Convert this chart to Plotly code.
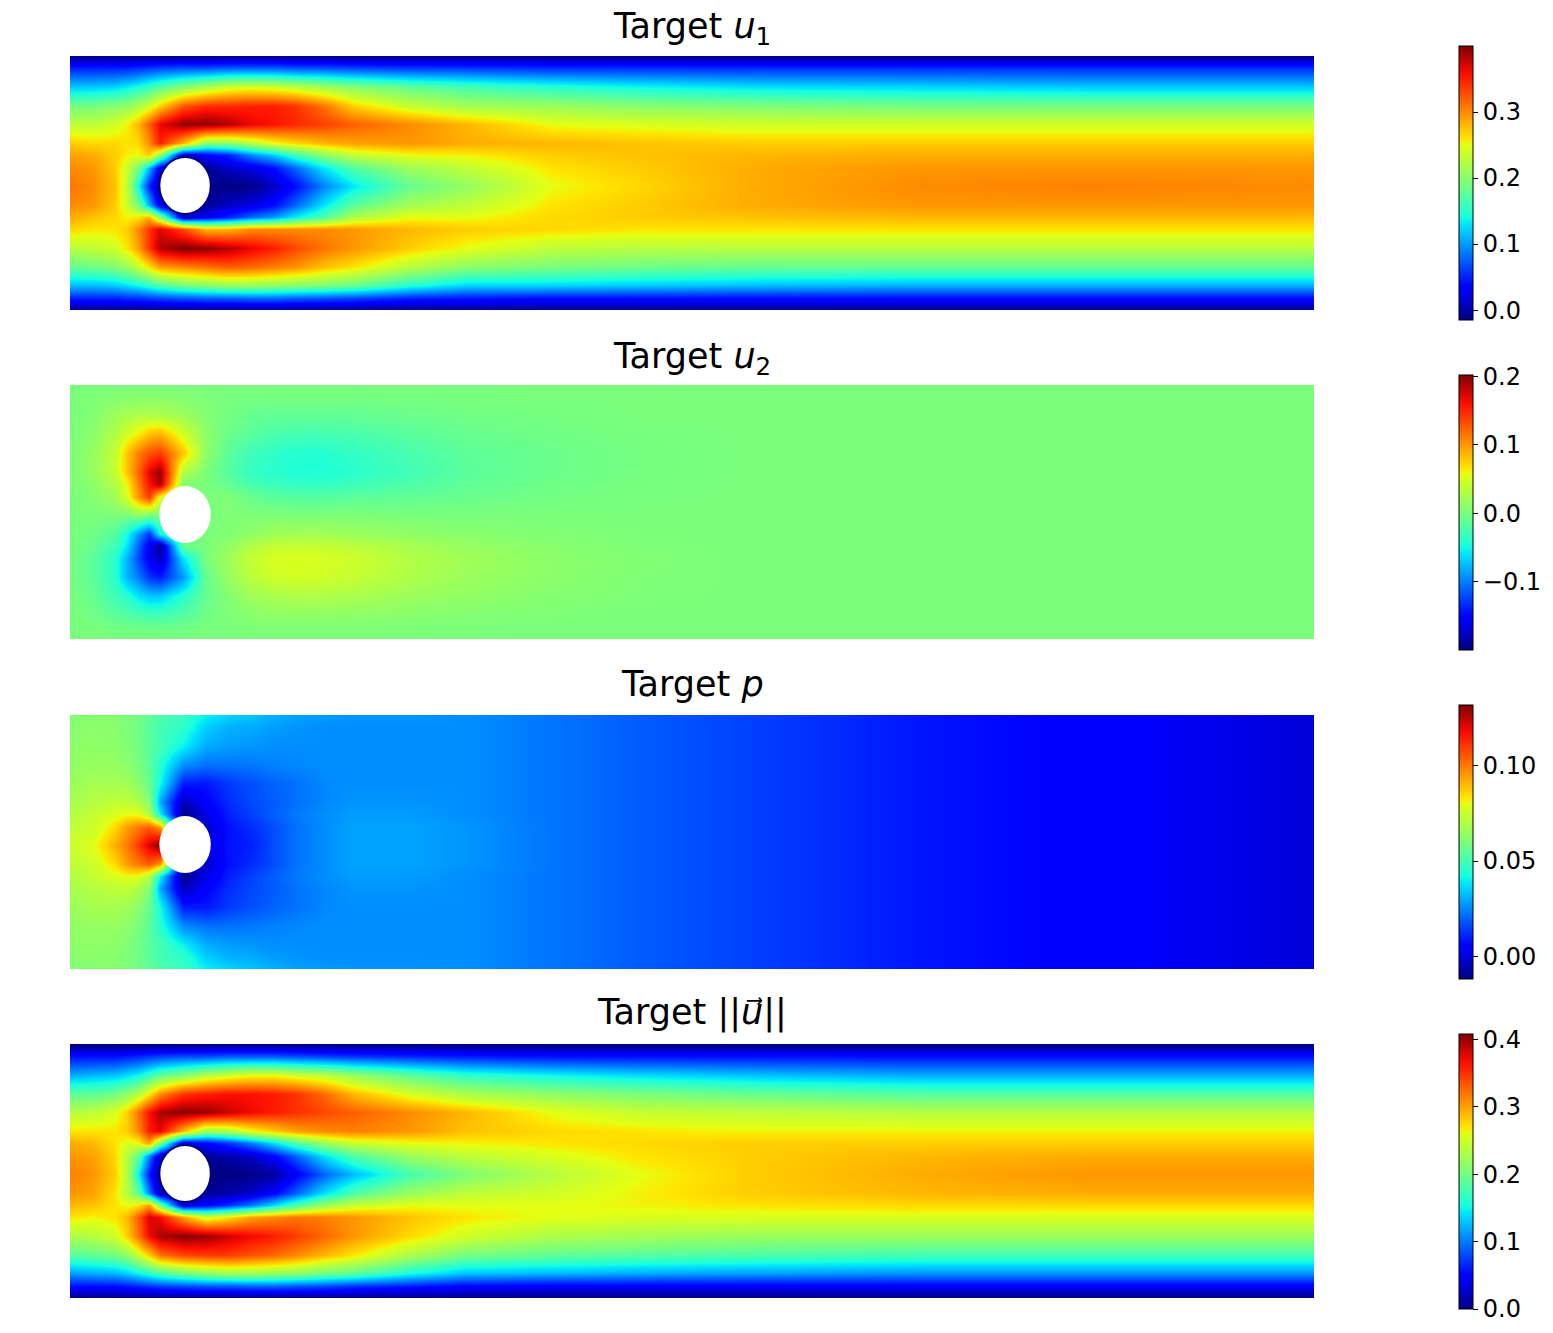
import plotly.graph_objects as go

# page body has an 8px margin, so the figure is smaller than the window
WIDTH = 1537
HEIGHT = 1317
PAGE_MARGIN = 8

JET = [
    [0.0, "#00007f"], [0.11, "#0000ff"], [0.125, "#0000ff"], [0.34, "#00dcff"],
    [0.35, "#00e5f7"], [0.375, "#16ffe1"], [0.5, "#7cff79"], [0.64, "#e4ff12"],
    [0.66, "#ffe600"], [0.89, "#ff1300"], [0.91, "#f10800"], [1.0, "#7f0000"],
]

X_COLS = [0, 0.04, 0.08, 0.1, 0.12, 0.14, 0.16, 0.2, 0.24, 0.28, 0.32, 0.36,
          0.4, 0.45, 0.5, 0.6, 0.7, 0.85, 1.0, 1.2, 1.5, 1.8, 2.2]
Y_ROWS = [0.41, 0.39, 0.36, 0.33, 0.30, 0.27, 0.25, 0.23, 0.20,
          0.17, 0.15, 0.13, 0.10, 0.07, 0.04, 0.02, 0]

# rows run from the top wall to the bottom wall
U1 = [
    [-.01, -.01, -.01, -.01, -.01, -.01, -.01, -.01, -.01, -.01, -.01, -.01, -.01, -.01, -.01, -.01, -.01, -.01, -.01, -.01, -.01, -.01, -.01],
    [.05, .05, .05, .05, .055, .06, .065, .07, .07, .075, .075, .075, .07, .07, .065, .06, .06, .055, .055, .055, .055, .055, .055],
    [.12, .12, .125, .135, .145, .16, .175, .2, .22, .24, .245, .24, .23, .215, .2, .18, .165, .15, .14, .13, .125, .12, .12],
    [.19, .19, .2, .205, .22, .24, .27, .325, .345, .345, .35, .35, .34, .31, .27, .235, .215, .21, .2, .195, .19, .19, .19],
    [.23, .23, .24, .255, .28, .32, .365, .395, .395, .385, .365, .355, .345, .335, .32, .3, .28, .25, .245, .24, .24, .24, .24],
    [.27, .265, .265, .26, .265, .3, .35, .28, .2, .2, .225, .25, .265, .28, .29, .295, .285, .28, .275, .27, .27, .27, .27],
    [.29, .285, .27, .255, .25, .27, .2, .01, .03, .05, .09, .12, .16, .2, .23, .25, .255, .27, .275, .28, .285, .285, .285],
    [.3, .295, .27, .235, .19, .11, .02, 0, -.005, .01, .02, .04, .08, .13, .17, .21, .23, .26, .27, .285, .295, .295, .295],
    [.31, .3, .275, .23, .14, .05, -.005, 0, -.01, -.015, -.012, .01, .04, .09, .13, .18, .205, .25, .265, .285, .3, .305, .3],
    [.3, .295, .27, .235, .19, .11, .02, 0, -.005, .01, .02, .04, .08, .13, .175, .215, .23, .26, .27, .285, .295, .295, .295],
    [.285, .275, .265, .255, .26, .28, .2, .01, .03, .05, .08, .1, .135, .17, .22, .25, .25, .265, .27, .275, .28, .28, .28],
    [.265, .26, .26, .27, .3, .34, .37, .33, .28, .28, .3, .3, .3, .3, .295, .28, .27, .265, .26, .26, .26, .26, .26],
    [.225, .23, .24, .26, .29, .34, .385, .4, .395, .385, .365, .35, .33, .31, .295, .27, .25, .23, .225, .225, .225, .225, .225],
    [.18, .185, .195, .21, .23, .26, .29, .3, .31, .32, .315, .305, .295, .275, .26, .225, .2, .19, .185, .18, .18, .18, .18],
    [.115, .115, .12, .13, .14, .155, .17, .19, .2, .21, .21, .205, .2, .195, .185, .15, .125, .125, .12, .115, .11, .11, .11],
    [.05, .05, .05, .055, .055, .06, .065, .07, .075, .075, .08, .08, .075, .07, .065, .05, .045, .04, .04, .04, .04, .04, .04],
    [-.01, -.01, -.01, -.01, -.01, -.01, -.01, -.01, -.01, -.01, -.01, -.01, -.01, -.01, -.01, -.01, -.01, -.01, -.01, -.01, -.01, -.01, -.01],
]

U2 = [
    [0, 0, 0, 0, 0, 0, 0, 0, 0, 0, 0, 0, 0, 0, 0, 0, 0, 0, 0, 0, 0, 0, 0],
    [0, .002, .005, .006, .007, .007, .007, .005, .001, -.001, -.002, -.003, -.003, -.003, -.003, -.002, -.001, 0, 0, 0, 0, 0, 0],
    [0, .005, .02, .025, .03, .03, .03, .02, .005, -.003, -.01, -.012, -.012, -.012, -.012, -.008, -.005, -.003, 0, 0, 0, 0, 0],
    [0, .01, .03, .05, .065, .085, .09, .05, .01, -.008, -.016, -.024, -.028, -.028, -.025, -.017, -.01, -.005, -.002, 0, 0, 0, 0],
    [.002, .015, .04, .08, .11, .13, .14, .08, .01, -.015, -.03, -.038, -.042, -.042, -.036, -.025, -.015, -.008, -.003, 0, 0, 0, 0],
    [.002, .015, .04, .08, .12, .17, .195, .03, 0, -.018, -.035, -.04, -.045, -.045, -.04, -.028, -.016, -.008, -.003, 0, 0, 0, 0],
    [.001, .01, .03, .06, .11, .16, .19, .005, 0, -.01, -.025, -.03, -.035, -.035, -.03, -.022, -.013, -.006, -.002, 0, 0, 0, 0],
    [0, .005, .02, .05, .1, .14, .05, 0, 0, .003, -.008, -.015, -.018, -.018, -.015, -.012, -.008, -.004, -.001, 0, 0, 0, 0],
    [0, 0, .002, 0, .01, 0, 0, 0, 0, .002, .002, .002, .002, .002, .002, 0, 0, 0, 0, 0, 0, 0, 0],
    [0, -.005, -.02, -.05, -.09, -.13, -.05, 0, 0, .005, .012, .02, .022, .022, .018, .012, .008, .004, .001, 0, 0, 0, 0],
    [0, -.01, -.03, -.06, -.11, -.16, -.195, -.01, 0, .012, .03, .04, .04, .04, .035, .025, .015, .007, .002, 0, 0, 0, 0],
    [-.002, -.015, -.04, -.08, -.12, -.16, -.18, -.06, 0, .02, .04, .05, .052, .05, .045, .03, .02, .01, .004, 0, 0, 0, 0],
    [-.002, -.015, -.04, -.08, -.1, -.13, -.14, -.09, -.01, .015, .035, .045, .048, .045, .04, .028, .018, .009, .003, 0, 0, 0, 0],
    [0, -.01, -.03, -.04, -.06, -.07, -.07, -.04, -.01, .005, .02, .025, .028, .028, .025, .018, .012, .006, .002, 0, 0, 0, 0],
    [0, -.005, -.015, -.02, -.025, -.03, -.03, -.02, -.005, .002, .008, .012, .012, .012, .01, .008, .005, .002, 0, 0, 0, 0, 0],
    [0, 0, -.004, -.005, -.006, -.007, -.007, -.005, -.001, 0, .002, .003, .003, .003, .003, .002, .001, 0, 0, 0, 0, 0, 0],
    [0, 0, 0, 0, 0, 0, 0, 0, 0, 0, 0, 0, 0, 0, 0, 0, 0, 0, 0, 0, 0, 0, 0],
]

P = [
    [.061, .062, .062, .06, .058, .055, .052, .048, .04, .036, .034, .031, .029, .028, .027, .027, .026, .0225, .019, .015, .009, .005, -.001],
    [.062, .063, .062, .06, .058, .054, .05, .046, .035, .031, .03, .028, .027, .026, .026, .026, .026, .0225, .019, .015, .009, .005, -.001],
    [.063, .064, .063, .061, .058, .054, .05, .04, .03, .028, .027, .026, .026, .026, .026, .026, .026, .0225, .019, .015, .009, .005, -.001],
    [.064, .065, .065, .063, .06, .054, .045, .026, .022, .022, .023, .024, .025, .026, .026, .026, .026, .0225, .019, .015, .009, .005, -.001],
    [.066, .068, .068, .067, .063, .056, .042, .01, .009, .014, .017, .02, .022, .025, .026, .026, .026, .0225, .019, .015, .009, .005, -.001],
    [.068, .071, .073, .073, .07, .062, .03, -.005, .005, .012, .016, .019, .022, .025, .027, .027, .026, .0225, .019, .015, .009, .005, -.001],
    [.07, .074, .078, .08, .08, .07, .04, -.011, .001, .01, .015, .0195, .023, .026, .028, .028, .026, .0225, .019, .015, .009, .005, -.001],
    [.073, .075, .085, .095, .1, .105, .095, 0, -.003, .008, .012, .017, .022, .026, .029, .029, .027, .0225, .019, .015, .009, .005, -.001],
    [.075, .079, .092, .1, .11, .122, .132, 0, .001, .008, .01, .017, .022, .026, .029, .029, .027, .0225, .019, .015, .009, .005, -.001],
    [.073, .075, .085, .095, .1, .105, .095, 0, -.003, .008, .012, .017, .022, .026, .029, .029, .027, .0225, .019, .015, .009, .005, -.001],
    [.07, .074, .078, .08, .08, .07, .04, -.011, .001, .01, .015, .0195, .023, .026, .028, .028, .026, .0225, .019, .015, .009, .005, -.001],
    [.068, .071, .073, .073, .07, .062, .03, -.005, .005, .012, .016, .019, .022, .025, .027, .027, .026, .0225, .019, .015, .009, .005, -.001],
    [.066, .068, .068, .067, .063, .056, .042, .01, .009, .014, .017, .02, .022, .025, .026, .026, .026, .0225, .019, .015, .009, .005, -.001],
    [.064, .065, .065, .063, .06, .054, .045, .026, .022, .022, .023, .024, .025, .026, .026, .026, .026, .0225, .019, .015, .009, .005, -.001],
    [.063, .064, .063, .061, .058, .054, .05, .04, .03, .028, .027, .026, .026, .026, .026, .026, .026, .0225, .019, .015, .009, .005, -.001],
    [.062, .063, .062, .06, .058, .054, .05, .046, .035, .031, .03, .028, .027, .026, .026, .026, .026, .0225, .019, .015, .009, .005, -.001],
    [.061, .062, .062, .06, .058, .055, .052, .048, .04, .036, .034, .031, .029, .028, .027, .027, .026, .0225, .019, .015, .009, .005, -.001],
]

SPEED = [
    [0, 0, 0, 0, 0, 0, 0, 0, 0, 0, 0, 0, 0, 0, 0, 0, 0, 0, 0, 0, 0, 0, 0],
    [.055, .055, .055, .06, .065, .07, .075, .08, .08, .085, .085, .085, .08, .075, .07, .065, .06, .055, .055, .055, .055, .055, .055],
    [.12, .125, .13, .14, .15, .17, .19, .21, .235, .25, .26, .26, .25, .24, .22, .19, .165, .15, .14, .13, .12, .12, .12],
    [.19, .19, .2, .215, .235, .27, .31, .35, .36, .365, .365, .36, .35, .325, .29, .255, .23, .215, .205, .195, .185, .185, .185],
    [.235, .24, .255, .28, .32, .365, .395, .405, .4, .385, .37, .36, .35, .34, .33, .31, .29, .26, .245, .24, .235, .235, .235],
    [.27, .27, .27, .28, .31, .36, .375, .29, .22, .23, .26, .28, .3, .31, .315, .305, .285, .275, .27, .265, .265, .265, .265],
    [.295, .29, .27, .255, .26, .3, .2, .03, .05, .07, .1, .14, .18, .22, .245, .26, .265, .27, .275, .28, .28, .28, .28],
    [.305, .3, .275, .235, .19, .1, .02, 0, .01, .015, .025, .05, .09, .14, .18, .22, .24, .255, .27, .28, .29, .295, .295],
    [.315, .305, .28, .235, .15, .06, .01, 0, 0, 0, .003, .01, .045, .09, .125, .175, .205, .235, .26, .28, .295, .305, .305],
    [.305, .3, .27, .235, .19, .1, .02, 0, .01, .015, .025, .05, .09, .14, .18, .22, .24, .25, .265, .28, .29, .295, .295],
    [.29, .285, .27, .26, .27, .3, .2, .03, .05, .07, .1, .14, .18, .22, .245, .26, .26, .26, .265, .27, .275, .275, .275],
    [.27, .265, .27, .29, .33, .38, .37, .3, .25, .27, .3, .31, .32, .315, .305, .285, .27, .26, .255, .255, .255, .255, .255],
    [.23, .235, .25, .28, .32, .37, .395, .405, .4, .385, .37, .36, .345, .325, .305, .275, .25, .23, .225, .22, .22, .22, .22],
    [.185, .19, .2, .215, .245, .28, .32, .34, .345, .345, .335, .325, .31, .29, .27, .23, .2, .19, .185, .18, .175, .175, .175],
    [.115, .12, .125, .135, .15, .165, .18, .2, .215, .225, .225, .22, .215, .2, .19, .155, .13, .125, .12, .115, .11, .11, .11],
    [.055, .055, .055, .06, .065, .07, .075, .08, .085, .085, .09, .09, .085, .08, .07, .06, .05, .045, .045, .045, .045, .045, .045],
    [0, 0, 0, 0, 0, 0, 0, 0, 0, 0, 0, 0, 0, 0, 0, 0, 0, 0, 0, 0, 0, 0, 0],
]

TITLES = [
    "Target <i>u</i><sub>1</sub>",
    "Target <i>u</i><sub>2</sub>",
    "Target <i>p</i>",
    "Target ||<i>u\u20d7</i>||",
]
FIELDS = [U1, U2, P, SPEED]
VMIN = [-0.015, -0.2, -0.012, 0.0]
VMAX = [0.40, 0.202, 0.132, 0.408]
TICK_VALS = [[0.0, 0.1, 0.2, 0.3], [-0.1, 0.0, 0.1, 0.2], [0.0, 0.05, 0.10], [0.0, 0.1, 0.2, 0.3, 0.4]]
TICK_TEXT = [["0.0", "0.1", "0.2", "0.3"], ["\u22120.1", "0.0", "0.1", "0.2"],
             ["0.00", "0.05", "0.10"], ["0.0", "0.1", "0.2", "0.3", "0.4"]]
RIM = ["#00007f", None, None, "#00007f"]

# pixel boxes measured on the reference: top, bottom of image and of colorbar
PANEL_TOP = [56, 385, 715, 1044]
PANEL_BOTTOM = [310, 639, 969, 1298]
BAR_TOP = [46, 375, 705, 1034]
BAR_BOTTOM = [320, 650, 979, 1309]
TITLE_Y = [29, 358, 684, 1012]


def px_x(x):
    return (x - PAGE_MARGIN) / WIDTH


def px_y(y):
    return 1 - (y - PAGE_MARGIN) / HEIGHT


fig = go.Figure()
for i, z in enumerate(FIELDS):
    suffix = "" if i == 0 else str(i + 1)
    fig.add_trace(go.Heatmap(
        x=X_COLS, y=Y_ROWS[::-1], z=z[::-1],
        zmin=VMIN[i], zmax=VMAX[i], zsmooth="best",
        colorscale=JET, hoverinfo="skip",
        xaxis=f"x{suffix}", yaxis=f"y{suffix}",
        colorbar=dict(
            x=px_x(1459), xanchor="left", xpad=0, ypad=0,
            y=px_y(BAR_TOP[i]), yanchor="top",
            thickness=14, thicknessmode="pixels",
            len=BAR_BOTTOM[i] - BAR_TOP[i], lenmode="pixels",
            outlinecolor="black", outlinewidth=1,
            ticks="outside", ticklen=5, tickwidth=1, tickcolor="black",
            tickvals=TICK_VALS[i], ticktext=TICK_TEXT[i],
            tickfont=dict(family="DejaVu Sans", size=24, color="black"),
        ),
    ))
    fig.update_layout({
        f"xaxis{suffix}": dict(domain=[px_x(70), px_x(1314)], range=[0, 2.2],
                               visible=False, anchor=f"y{suffix}"),
        f"yaxis{suffix}": dict(domain=[px_y(PANEL_BOTTOM[i]), px_y(PANEL_TOP[i])],
                               range=[0, 0.41], visible=False, anchor=f"x{suffix}"),
    })
    # the cylinder, blank in the mesh
    fig.add_shape(
        type="circle", xref=f"x{suffix}", yref=f"y{suffix}",
        x0=0.158, x1=0.249, y0=0.155, y1=0.247,
        fillcolor="white",
        line=dict(color=RIM[i] or "white", width=2 if RIM[i] else 0),
    )
    fig.add_annotation(
        text=TITLES[i], xref="paper", yref="paper",
        x=px_x(692), y=px_y(TITLE_Y[i]), xanchor="center", yanchor="middle",
        showarrow=False, font=dict(family="DejaVu Sans", size=35, color="black"),
    )

fig.update_layout(
    width=WIDTH, height=HEIGHT,
    margin=dict(l=0, r=0, t=0, b=0),
    paper_bgcolor="white", plot_bgcolor="white",
    showlegend=False,
)

fig.write_html("out.html")
